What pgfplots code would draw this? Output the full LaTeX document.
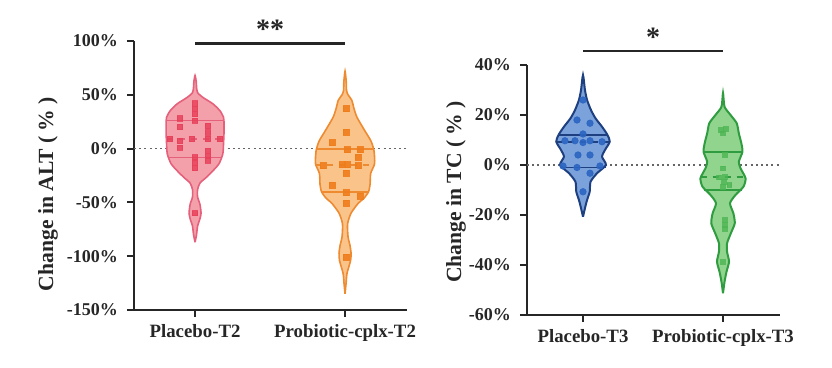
\documentclass[border=0pt]{standalone}
\usepackage{fontspec}
\setmainfont{Liberation Serif}
\usepackage{pgfplots}
\pgfplotsset{compat=1.18}
\usepackage{pgfplotstable}

\definecolor{pinkF}{HTML}{F3A0AB}
\definecolor{pinkE}{HTML}{E5607A}
\definecolor{pinkP}{HTML}{E8415A}
\definecolor{orF}{HTML}{F9C38A}
\definecolor{orE}{HTML}{EE8A30}
\definecolor{orP}{HTML}{EE7D1C}
\definecolor{blF}{HTML}{7BA2DB}
\definecolor{blE}{HTML}{1E3F80}
\definecolor{blP}{HTML}{2C66C2}
\definecolor{grF}{HTML}{90D48E}
\definecolor{grE}{HTML}{2F9C3F}
\definecolor{grP}{HTML}{4DB552}
\definecolor{axc}{HTML}{262626}

% violin outlines: x y (closed polygon)
\pgfplotstableread{
x y
0 -87
0.010 -80
0.017 -72
0.033 -65
0.040 -60
0.033 -52
0.017 -45
0.017 -38
0.033 -32
0.073 -27
0.120 -20.5
0.160 -14
0.185 -5
0.190 5
0.193 15
0.193 25
0.190 29
0.167 35
0.120 41.5
0.053 47.5
0.017 52
0.010 57
0.008 62
0 68
-0.008 62
-0.010 57
-0.017 52
-0.053 47.5
-0.120 41.5
-0.167 35
-0.190 29
-0.193 25
-0.193 15
-0.190 5
-0.185 -5
-0.160 -14
-0.120 -20.5
-0.073 -27
-0.033 -32
-0.017 -38
-0.017 -45
-0.033 -52
-0.040 -60
-0.033 -65
-0.017 -72
-0.010 -80
0 -87
}\violA

\pgfplotstableread{
x y
1 -135
1.007 -125
1.013 -116
1.037 -104
1.040 -97
1.033 -90
1.020 -82
1.017 -70
1.040 -60
1.087 -51
1.127 -46
1.157 -40
1.167 -33
1.171 -23
1.197 -14
1.193 -2
1.173 7
1.130 17
1.080 29
1.060 37
1.045 45
1.020 50
1.010 54
1.008 62
1 72
0.992 62
0.990 54
0.980 50
0.955 45
0.940 37
0.920 29
0.870 17
0.827 7
0.807 -2
0.803 -14
0.829 -23
0.833 -33
0.843 -40
0.873 -46
0.913 -51
0.960 -60
0.983 -70
0.980 -82
0.967 -90
0.960 -97
0.963 -104
0.987 -116
0.993 -125
1 -135
}\violB

\pgfplotstableread{
x y
0 -20.7
0.014 -17.3
0.029 -14
0.048 -10.7
0.054 -6.7
0.100 -3.3
0.164 0
0.136 3.3
0.157 6
0.191 9.3
0.175 12
0.136 15.3
0.089 18.7
0.057 22
0.029 26
0.014 30
0 36
-0.014 30
-0.029 26
-0.057 22
-0.089 18.7
-0.136 15.3
-0.175 12
-0.191 9.3
-0.157 6
-0.136 3.3
-0.164 0
-0.100 -3.3
-0.054 -6.7
-0.048 -10.7
-0.029 -14
-0.014 -17.3
0 -20.7
}\violC

\pgfplotstableread{
x y
1 -51.3
1.011 -46.7
1.025 -42.7
1.043 -38.7
1.029 -34.7
1.029 -31.3
1.056 -27.3
1.084 -23.3
1.074 -19.3
1.050 -15.3
1.089 -12
1.146 -8.7
1.161 -5.3
1.125 -1.3
1.113 1.3
1.139 5.3
1.131 8.7
1.113 12.7
1.098 16.7
1.054 20
1.011 23.3
1 28.7
0.989 23.3
0.946 20
0.902 16.7
0.887 12.7
0.869 8.7
0.861 5.3
0.887 1.3
0.875 -1.3
0.839 -5.3
0.854 -8.7
0.911 -12
0.950 -15.3
0.926 -19.3
0.916 -23.3
0.944 -27.3
0.971 -31.3
0.971 -34.7
0.957 -38.7
0.975 -42.7
0.989 -46.7
1 -51.3
}\violD

% individual points
\pgfplotstableread{
x y
0 42
0 37
0 32
0 26
-0.100 28
-0.100 20
0.087 21
0.087 15
0.087 9
-0.100 7
-0.100 1
-0.167 9
-0.020 9
0.167 9
0 -8
0 -13
0 -18
0.087 -2
0.087 -7
0.087 -11
0 -60
}\ptsA

\pgfplotstableread{
x y
1.007 37
1.007 15
0.913 5.6
1.013 -1
1.100 -1
1.087 -8
0.853 -16
0.980 -15
1.013 -15
1.087 -16
1.007 -23
0.913 -34
1.007 -41
1.100 -44
1.007 -51
1.007 -101
}\ptsB

\pgfplotstableread{
x y
0 26
-0.043 18
0.050 16.7
0 12.4
-0.129 9.7
-0.057 9.7
0 9
0.050 9.7
0.136 9.3
-0.036 4
0.050 4
-0.143 -0.4
-0.043 -1
0.121 -0.4
0.050 -3.3
0 -10.7
}\ptsC

\pgfplotstableread{
x y
0.986 14
1.021 14.4
1.000 12.7
1.014 4
1.000 -1.3
1.014 -4.7
0.970 -5
1.007 -6.7
1.045 -8
1.000 -8.7
1.014 -22
1.014 -24
1.014 -25.5
1.000 -38.7
}\ptsD

\pgfplotsset{
  vio/.style={
    scale only axis,
    axis lines*=left,
    axis line style={line width=1pt, axc},
    tick style={line width=1pt, axc},
    tick align=outside,
    major tick length=3.5pt,
    xtick={0,1},
    clip=false,
    ticklabel style={font=\fontsize{9}{10}\selectfont\bfseries, text=axc},
    xticklabel style={font=\fontsize{9.4}{10}\selectfont\bfseries},
    yticklabel style={xshift=-1pt},
  }
}

\begin{document}
\begin{tikzpicture}
\path (0,0) rectangle (416pt,184pt);

% ---------- left panel ----------
\begin{axis}[vio,
  at={(67pt,29pt)}, anchor=south west,
  width=136.5pt, height=134.5pt,
  xmin=-0.407, xmax=1.413,
  ymin=-150, ymax=100,
  xticklabels={Placebo-T2, Probiotic-cplx-T2},
  ytick={-150,-100,-50,0,50,100},
  yticklabels={{-150\%},{-100\%},{-50\%},{0\%},{50\%},{100\%}},
]
\addplot[gray!80!black, line width=0.8pt, dash pattern=on 1pt off 1.6pt] coordinates {(-0.407,0) (1.413,0)};
\addplot[draw=pinkE, fill=pinkF, line width=0.8pt, smooth, tension=0.4] table {\violA};
\addplot[draw=orE, fill=orF, line width=0.8pt, smooth, tension=0.4] table {\violB};
% quartiles
\addplot[pinkE, line width=0.7pt] coordinates {(-0.193,26) (0.193,26)};
\addplot[pinkE, line width=0.7pt, dashed] coordinates {(-0.190,9) (0.190,9)};
\addplot[pinkE, line width=0.7pt] coordinates {(-0.183,-8) (0.183,-8)};
\addplot[orE, line width=1pt] coordinates {(0.806,0) (1.194,0)};
\addplot[orE, line width=1pt, dashed] coordinates {(0.803,-15) (1.197,-15)};
\addplot[orE, line width=1pt] coordinates {(0.843,-40.6) (1.157,-40.6)};
% points
\addplot[only marks, mark=square*, mark size=1.3pt, color=pinkP, opacity=0.85] table {\ptsA};
\addplot[only marks, mark=square*, mark size=1.5pt, color=orP, opacity=0.9] table {\ptsB};
% significance
\addplot[axc, line width=1.3pt] coordinates {(0,97.6) (1,97.6)};
\node[font=\fontsize{14}{14}\selectfont\bfseries, text=axc] at (axis cs:0.5,111) {**};
\end{axis}

% ---------- right panel ----------
\begin{axis}[vio,
  at={(263.5pt,26.5pt)}, anchor=south west,
  width=126.5pt, height=125pt,
  xmin=-0.4, xmax=1.407,
  ymin=-60, ymax=40,
  xticklabels={Placebo-T3, Probiotic-cplx-T3},
  ytick={-60,-40,-20,0,20,40},
  yticklabels={{-60\%},{-40\%},{-20\%},{0\%},{20\%},{40\%}},
]
\addplot[gray!80!black, line width=0.8pt, dash pattern=on 1pt off 1.6pt] coordinates {(-0.4,0) (1.407,0)};
\addplot[draw=blE, fill=blF, line width=1pt, smooth, tension=0.4] table {\violC};
\addplot[draw=grE, fill=grF, line width=1pt, smooth, tension=0.4] table {\violD};
\addplot[blE, line width=0.9pt] coordinates {(-0.175,12) (0.175,12)};
\addplot[blE, line width=0.9pt, dashed] coordinates {(-0.191,9.3) (0.191,9.3)};
\addplot[blE, line width=0.9pt] coordinates {(-0.164,-1) (0.164,-1)};
\addplot[grE, line width=1pt] coordinates {(0.861,5.3) (1.139,5.3)};
\addplot[grE, line width=1pt, dashed] coordinates {(0.840,-4.7) (1.160,-4.7)};
\addplot[grE, line width=1pt] coordinates {(0.865,-10) (1.135,-10)};
\addplot[only marks, mark=*, mark size=1.6pt, color=blP, opacity=0.9] table {\ptsC};
\addplot[only marks, mark=square*, mark size=1.1pt, color=grP, opacity=0.8] table {\ptsD};
\addplot[axc, line width=1.3pt] coordinates {(0,45.6) (1,45.6)};
\node[font=\fontsize{14}{14}\selectfont\bfseries, text=axc] at (axis cs:0.5,51) {*};
\end{axis}

% axis titles
\node[rotate=90, font=\fontsize{10.8}{12}\selectfont\bfseries, text=axc] at (24pt,87pt) {Change in ALT ( \% )};
\node[rotate=90, font=\fontsize{10.8}{12}\selectfont\bfseries, text=axc] at (228pt,88pt) {Change in TC ( \% )};
\end{tikzpicture}
\end{document}
